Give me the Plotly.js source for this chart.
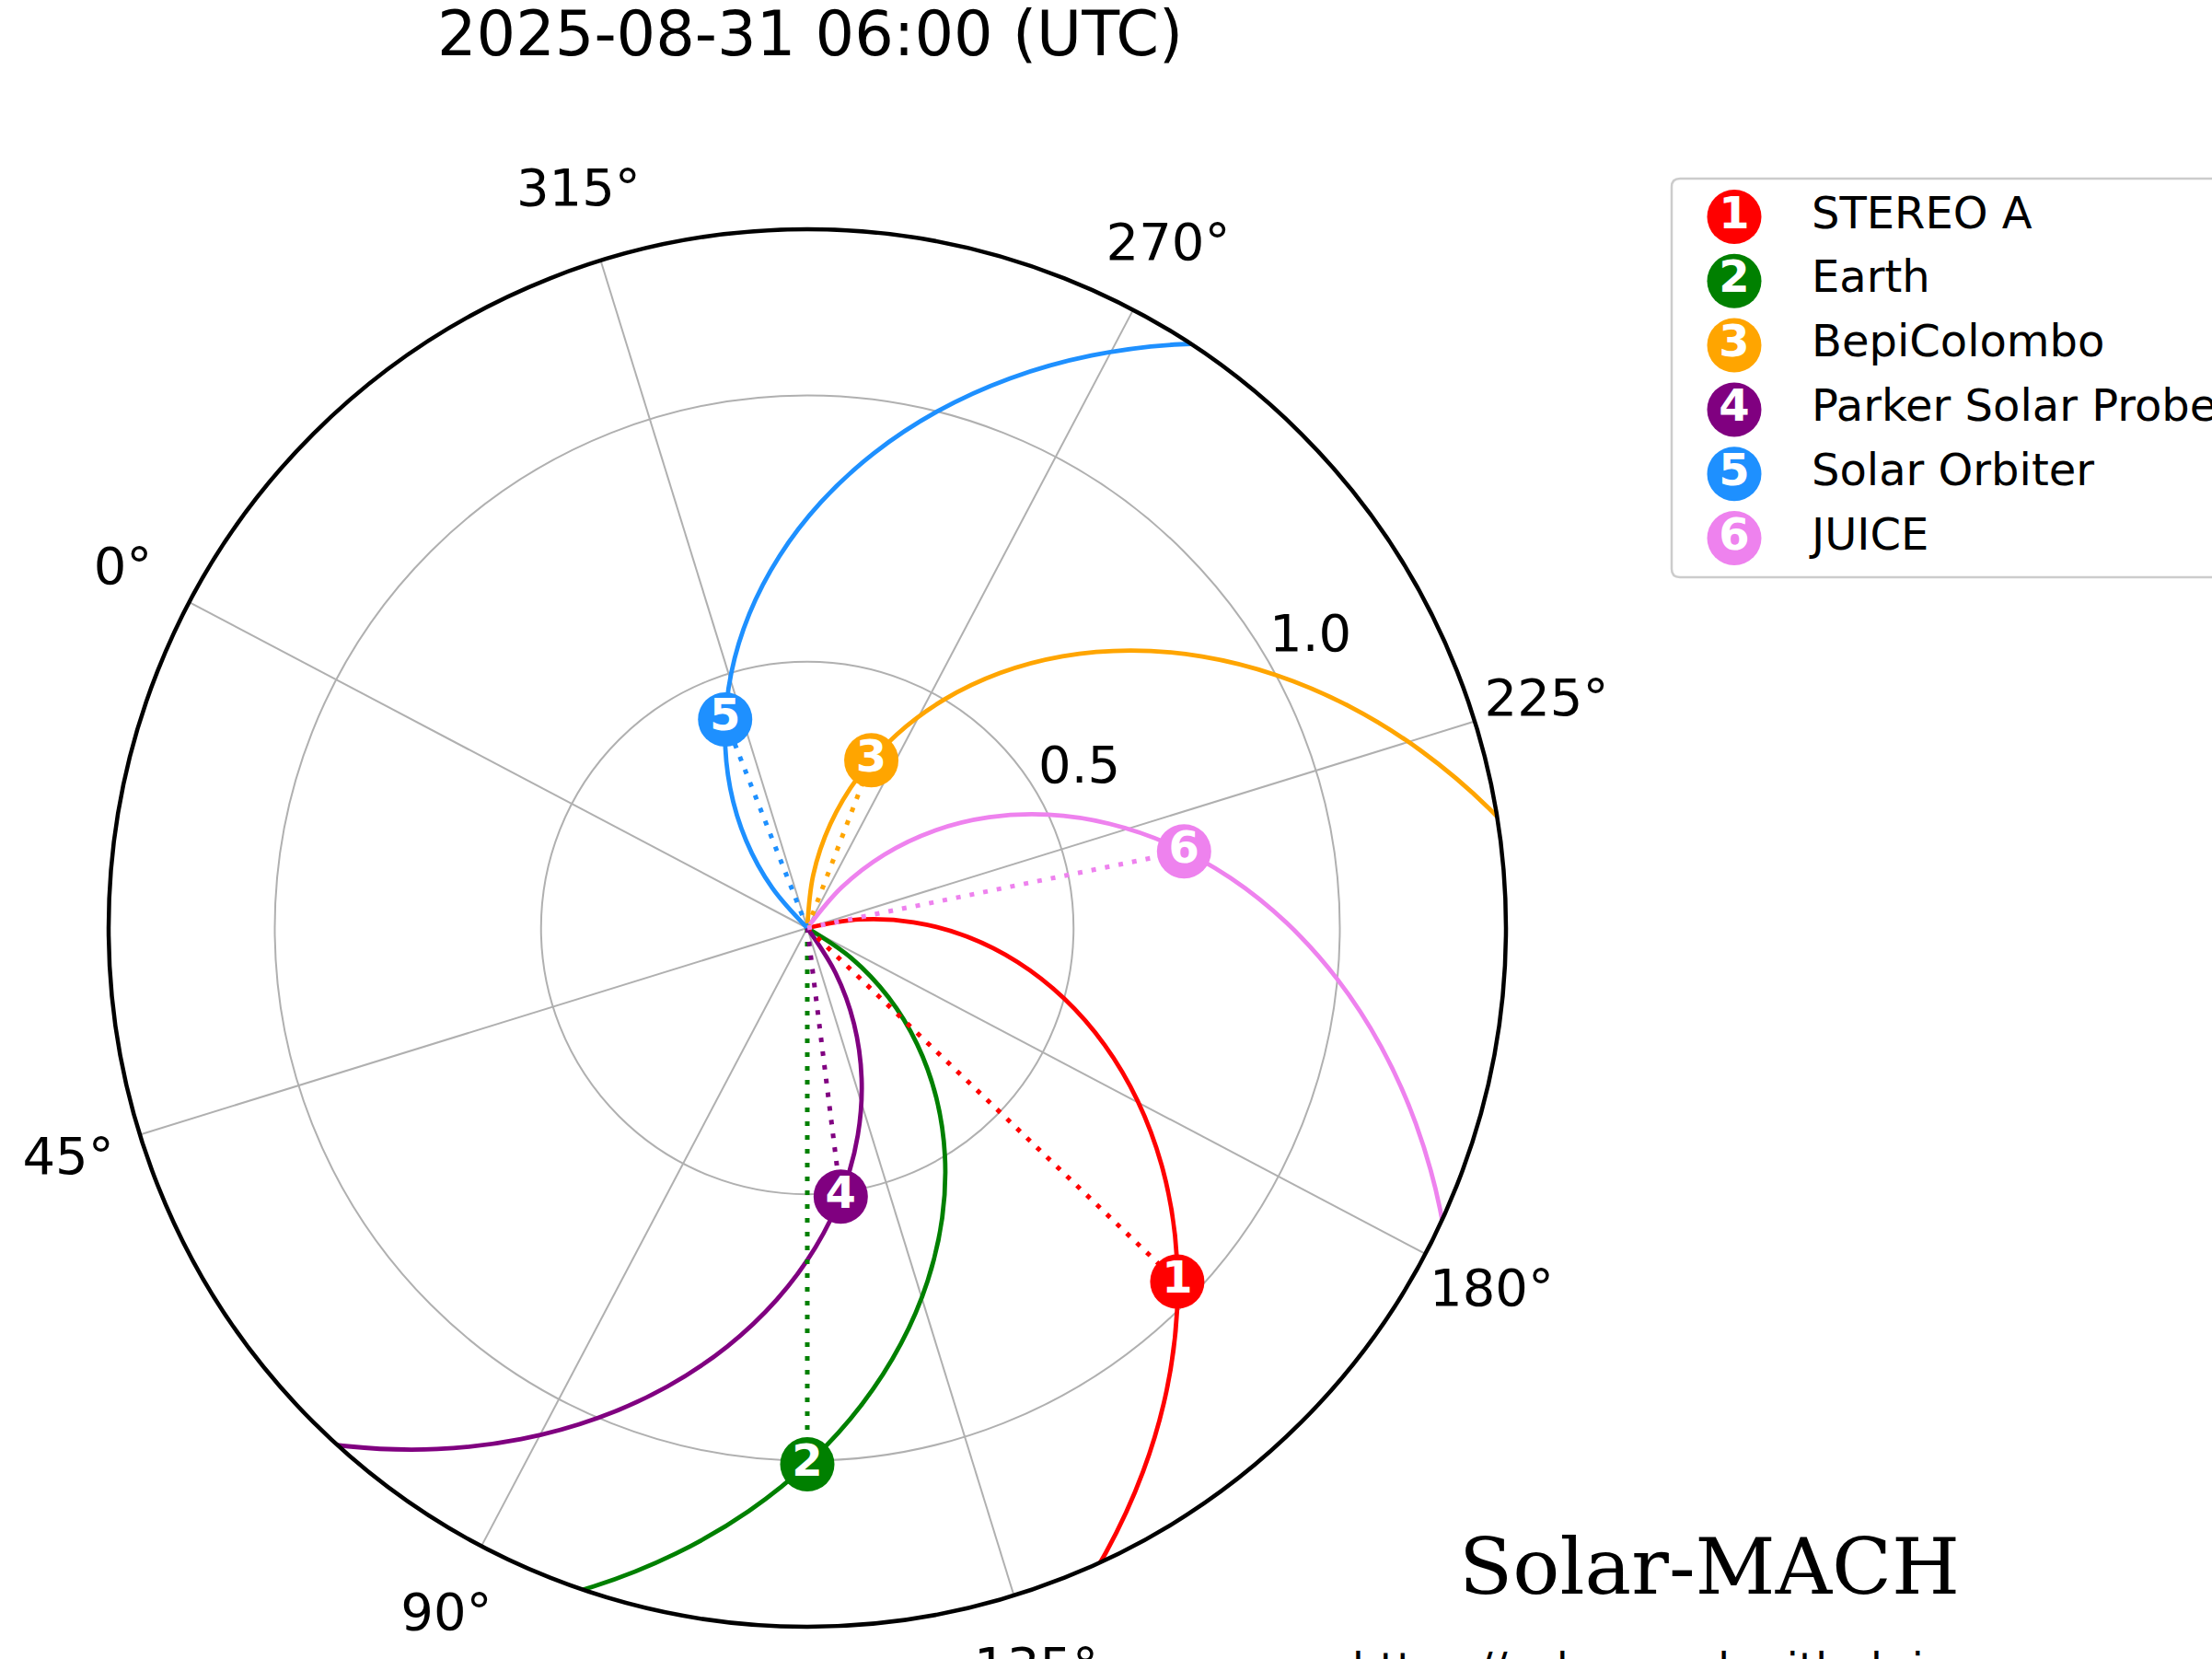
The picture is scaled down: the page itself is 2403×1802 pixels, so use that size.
<!DOCTYPE html>
<html>
<head>
<meta charset="utf-8">
<script src="https://cdn.plot.ly/plotly-3.0.1.min.js"></script>
<style>
  html, body { margin: 0; padding: 0; background: #ffffff; }
  #chart { width: 2403px; height: 1802px; }
</style>
</head>
<body>
<div id="chart"></div>
<script>
// ---------------- data ----------------
const chartTitle = '2025-08-31 06:00 (UTC)';
const bodyNames = ['STEREO A', 'Earth', 'BepiColombo', 'Parker Solar Probe', 'Solar Orbiter', 'JUICE'];
const bodyNumbers = ['1', '2', '3', '4', '5', '6'];
const bodyColors = ['#ff0000', '#008000', '#ffa500', '#800080', '#1e90ff', '#ee82ee'];
const bodyDistance = [0.961, 1.007, 0.337, 0.508, 0.421, 0.722];      // AU
const bodyLongitude = [164.1, 117.8, 276.9, 124.9, 319.3, 219.3];     // deg

// magnetic field line (Parker spiral) samples: radius (AU) and longitude (deg)
const spiralR = [0, 0.1, 0.2, 0.3, 0.4, 0.5, 0.6, 0.7, 0.8, 0.9, 1.0, 1.1, 1.2, 1.3, 1.4];
const spiralStereoA = [223.17, 217.03, 210.89, 204.75, 198.61, 192.47, 186.33, 180.19, 174.05, 167.91, 161.77, 155.63, 149.49, 143.35, 137.21];
const spiralEarth = [179.62, 173.48, 167.34, 161.20, 155.06, 148.92, 142.78, 136.64, 130.50, 124.36, 118.22, 112.08, 105.94, 99.80, 93.66];
const spiralBepi = [297.56, 291.42, 285.28, 279.14, 273.00, 266.86, 260.72, 254.58, 248.44, 242.30, 236.16, 230.02, 223.88, 217.74, 211.60];
const spiralPSP = [156.09, 149.95, 143.81, 137.67, 131.53, 125.39, 119.25, 113.11, 106.97, 100.83, 94.69, 88.55, 82.41, 76.27, 70.13];
const spiralSolO = [345.08, 338.94, 332.80, 326.66, 320.52, 314.38, 308.24, 302.10, 295.96, 289.82, 283.68, 277.54, 271.40, 265.26, 259.12];
const spiralJUICE = [263.68, 257.54, 251.40, 245.26, 239.12, 232.98, 226.84, 220.70, 214.56, 208.42, 202.28, 196.14, 190.00, 183.86, 177.72];
const spirals = [spiralStereoA, spiralEarth, spiralBepi, spiralPSP, spiralSolO, spiralJUICE];

const angTickVals = [0, 45, 90, 135, 180, 225, 270, 315];
const angTickText = ['0°', '45°', '90°', '135°', '180°', '225°', '270°', '315°'];
const radTickVals = [0.5, 1.0];
const radTickText = ['0.5', '1.0'];

// ---------------- styles / layout constants ----------------
const W = 2403, H = 1802;
const CX = 877, CY = 1008, RPX = 759;
const R_MAX = 1.312;
const PX_PER_AU = RPX / R_MAX;
const ROTATION = 152.2;
const ANG_LABEL_R = 1.453;       // radius (AU units of the plot) where angular labels are centred
const ANG_LABEL_DY = 4;          // px nudge down for label baseline
const RAD_LABEL_THETA = 237.6;   // direction of radial labels
const FONT = 'DejaVu Sans';

const traces = [];

// spirals
spirals.forEach((lon, i) => {
  traces.push({
    type: 'scatterpolar', r: spiralR, theta: lon, mode: 'lines',
    line: { color: bodyColors[i], width: 4.8, shape: 'spline', smoothing: 1 },
    cliponaxis: true, hoverinfo: 'skip', showlegend: false
  });
});

// dotted radial connectors
bodyNames.forEach((n, i) => {
  traces.push({
    type: 'scatterpolar', r: [0, bodyDistance[i]], theta: [bodyLongitude[i], bodyLongitude[i]],
    mode: 'lines', line: { color: bodyColors[i], width: 5, dash: '5px,10px' },
    cliponaxis: false, hoverinfo: 'skip', showlegend: false
  });
});

// body markers
traces.push({
  type: 'scatterpolar', r: bodyDistance, theta: bodyLongitude,
  mode: 'markers+text', text: bodyNumbers, textposition: 'middle center',
  textfont: { family: FONT, size: 48, color: '#ffffff', weight: 'bold' },
  marker: { size: 59, color: bodyColors, line: { width: 0 } },
  cliponaxis: false, hoverinfo: 'skip', showlegend: false
});

// radial tick labels
traces.push({
  type: 'scatterpolar', r: radTickVals, theta: radTickVals.map(() => RAD_LABEL_THETA),
  mode: 'text', text: radTickText, textposition: 'top right',
  textfont: { family: FONT, size: 56, color: '#000000' },
  cliponaxis: false, hoverinfo: 'skip', showlegend: false
});

// angular tick labels: placed on a hidden cartesian overlay sharing the polar plane (units of AU)
const angRad = angTickVals.map(t => (ROTATION + t) * Math.PI / 180);
traces.push({
  type: 'scatter', xaxis: 'x2', yaxis: 'y2',
  x: angRad.map(a => ANG_LABEL_R * Math.cos(a)),
  y: angRad.map(a => ANG_LABEL_R * Math.sin(a)),
  mode: 'text', text: angTickText, textposition: 'middle center',
  textfont: { family: FONT, size: 56, color: '#000000' },
  cliponaxis: true, hoverinfo: 'skip', showlegend: false
});

// legend (drawn in its own hidden cartesian subplot)
traces.push({
  type: 'scatter', xaxis: 'x', yaxis: 'y',
  x: bodyNames.map(() => 0), y: bodyNames.map((n, i) => i),
  mode: 'markers+text', text: bodyNumbers, textposition: 'middle center',
  textfont: { family: FONT, size: 48, color: '#ffffff', weight: 'bold' },
  marker: { size: 59, color: bodyColors, line: { width: 0 } },
  cliponaxis: false, hoverinfo: 'skip', showlegend: false
});
traces.push({
  type: 'scatter', xaxis: 'x', yaxis: 'y',
  x: bodyNames.map(() => 1), y: bodyNames.map((n, i) => i),
  mode: 'text', text: bodyNames, textposition: 'middle right',
  textfont: { family: FONT, size: 48, color: '#000000' },
  cliponaxis: false, hoverinfo: 'skip', showlegend: false
});

// legend geometry (pixels)
const LG = { left: 1816, top: 194, bottom: 627, markX: 1884, textX: 1968, firstY: 235.5, step: 69.8 };
const lgPxX = LG.textX - LG.markX;
const lx0 = LG.left / W, lx1 = 1.02;
const ly0 = 1 - LG.bottom / H, ly1 = 1 - LG.top / H;
const crx = 9 / W, cry = 9 / H;

const layout = {
  width: W, height: H,
  margin: { l: 0, r: 0, t: 0, b: 0, pad: 0, autoexpand: false },
  paper_bgcolor: '#ffffff', plot_bgcolor: 'rgba(0,0,0,0)',
  showlegend: false,
  font: { family: FONT, color: '#000000' },
  title: {
    text: chartTitle, font: { family: FONT, size: 67, color: '#000000' },
    x: 880 / W, xanchor: 'center', xref: 'paper',
    y: 1 - 36.5 / H, yanchor: 'middle', yref: 'container'
  },
  polar: {
    domain: { x: [(CX - RPX) / W, (CX + RPX) / W], y: [1 - (CY + RPX) / H, 1 - (CY - RPX) / H] },
    bgcolor: '#ffffff',
    angularaxis: {
      rotation: ROTATION, direction: 'counterclockwise',
      tickmode: 'array', tickvals: angTickVals, showticklabels: false, ticks: '',
      showline: true, linecolor: '#000000', linewidth: 4.5,
      showgrid: true, gridcolor: '#b0b0b0', gridwidth: 2
    },
    radialaxis: {
      range: [0, R_MAX], tickmode: 'array', tickvals: radTickVals,
      showticklabels: false, ticks: '', showline: false,
      showgrid: true, gridcolor: '#b0b0b0', gridwidth: 2
    }
  },
  xaxis: {
    domain: [LG.left / W, 1], anchor: 'y', visible: false, fixedrange: true,
    range: [(LG.left - LG.markX) / lgPxX, (W - LG.markX) / lgPxX]
  },
  yaxis: {
    domain: [ly0, ly1], anchor: 'x', visible: false, fixedrange: true,
    range: [(LG.bottom - LG.firstY) / LG.step, -(LG.firstY - LG.top) / LG.step]
  },
  xaxis2: {
    domain: [0, 1], anchor: 'y2', visible: false, fixedrange: true,
    range: [-CX / PX_PER_AU, (W - CX) / PX_PER_AU]
  },
  yaxis2: {
    domain: [0, 1], anchor: 'x2', visible: false, fixedrange: true,
    range: [-(H - CY - ANG_LABEL_DY) / PX_PER_AU, (CY + ANG_LABEL_DY) / PX_PER_AU]
  },
  shapes: [{
    type: 'path', xref: 'paper', yref: 'paper', layer: 'below',
    path: `M ${lx1},${ly0} L ${lx0 + crx},${ly0} Q ${lx0},${ly0} ${lx0},${ly0 + cry} ` +
          `L ${lx0},${ly1 - cry} Q ${lx0},${ly1} ${lx0 + crx},${ly1} L ${lx1},${ly1}`,
    line: { color: '#cccccc', width: 2.5 }, fillcolor: 'rgba(0,0,0,0)'
  }],
  annotations: [
    {
      text: 'Solar-MACH', xref: 'paper', yref: 'paper', x: 2131 / W, y: 1 - 1701.5 / H,
      xanchor: 'right', yanchor: 'middle', showarrow: false,
      font: { family: 'DejaVu Serif', size: 85, color: '#000000' }
    },
    {
      text: 'https://solar-mach.github.io', xref: 'paper', yref: 'paper', x: 2121 / W, y: 1 - 1811.5 / H,
      xanchor: 'right', yanchor: 'middle', showarrow: false,
      font: { family: FONT, size: 47, color: '#000000' }
    }
  ]
};

Plotly.newPlot('chart', traces, layout, { staticPlot: true, displayModeBar: false, responsive: false });
</script>
</body>
</html>
